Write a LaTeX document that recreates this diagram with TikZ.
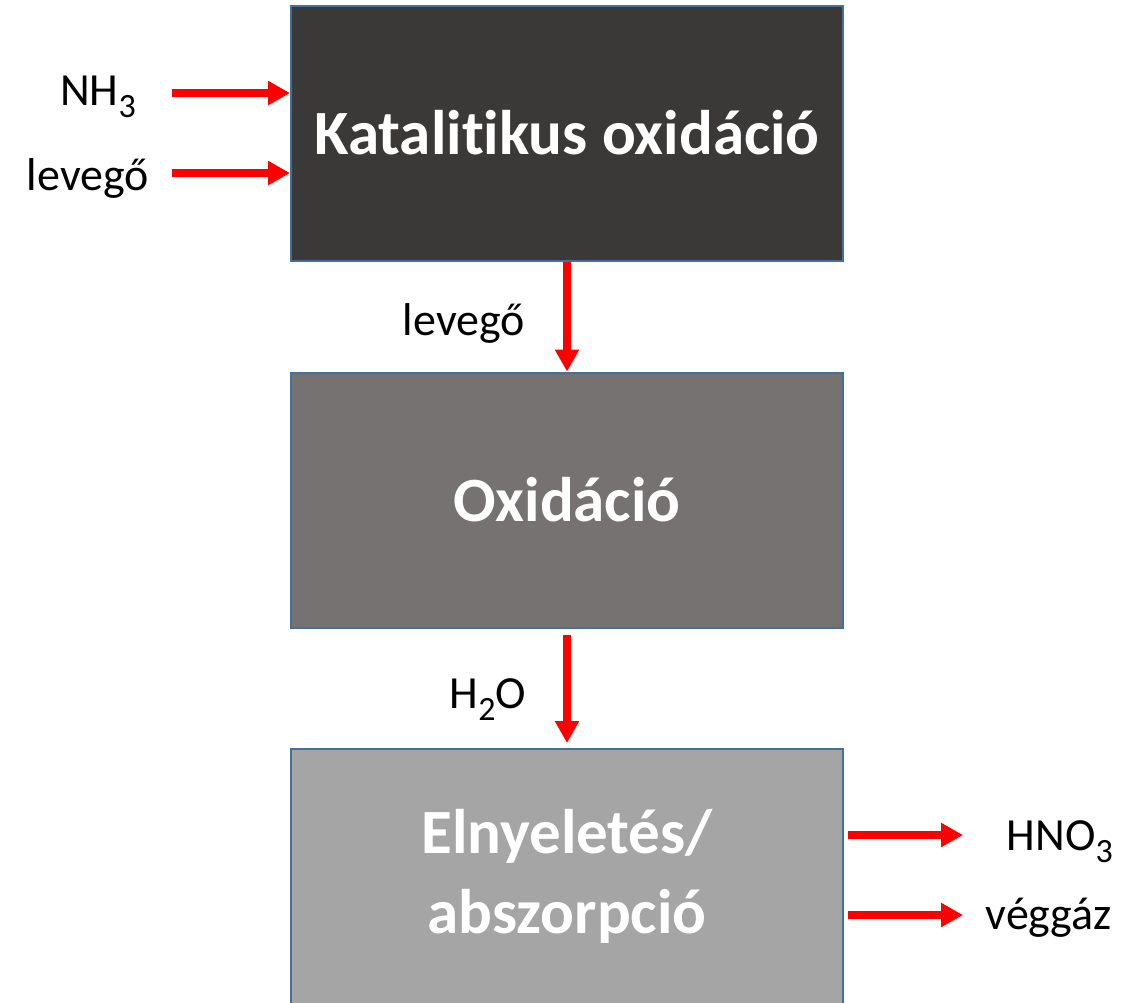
\documentclass[tikz,border=0pt]{standalone}
\usepackage{fontspec}
\setmainfont{Carlito}[Ligatures=NoCommon]
\usetikzlibrary{arrows.meta,positioning}
\definecolor{katgray}{HTML}{3B3938}
\definecolor{oxgray}{HTML}{767271}
\definecolor{absgray}{HTML}{A5A5A5}
\definecolor{edgeblue}{HTML}{41719C}
\definecolor{flowred}{HTML}{FF0000}
\newcommand{\chemsub}[1]{\raisebox{-6pt}{\fontsize{17pt}{17pt}\selectfont #1}}
\begin{document}
\begin{tikzpicture}[x=0.5pt,y=-0.5pt,
    every node/.style={font=\fontsize{23pt}{28pt}\selectfont},
    unit/.style={draw=edgeblue,line width=1pt,minimum width=276pt,minimum height=127.5pt,
      text=white,align=center,inner sep=0pt,
      font=\bfseries\fontsize{31.5pt}{40pt}\selectfont},
    flow/.style={draw=flowred,line width=3.6pt,-{Triangle[length=11pt,width=11.5pt]}}]
  \useasboundingbox (0,0) rectangle (1145,1002);
  % process units
  \node[unit,fill=katgray] (kat) at (567,133) {Katalitikus oxidáció};
  \node[unit,fill=oxgray] (oxi) at (567,500) {Oxidáció};
  \node[unit,fill=absgray] (abs) at (567,876) {Elnyeletés/\\abszorpció};
  % inputs and outputs
  \node (nh3) at (98,97) {NH\chemsub{3}};
  \node (lev1) at (88,178) {levegő};
  \node (lev2) at (464,323) {levegő};
  \node (h2o) at (488,700) {H\chemsub{2}O};
  \node[anchor=east] (hno3) at (1120,842) {HNO\chemsub{3}};
  \node[anchor=east] (veg) at (1119,918) {véggáz};
  \coordinate (nh3s) at (172,93);
  \coordinate (lev1s) at (172,173);
  \coordinate (hno3e) at (963,835);
  \coordinate (vege) at (963,915);
  \coordinate (h2os) at (567,635);
  \coordinate (h2oe) at (567,743);
  \draw[flow] (nh3s) -- (kat.west |- nh3s);
  \draw[flow] (lev1s) -- (kat.west |- lev1s);
  \draw[flow] (kat.south) -- (oxi.north);
  \draw[flow] (h2os) -- (h2oe);
  \draw[flow] (abs.east |- hno3e) ++(4,0) -- (hno3e);
  \draw[flow] (abs.east |- vege) ++(4,0) -- (vege);
\end{tikzpicture}
\end{document}
